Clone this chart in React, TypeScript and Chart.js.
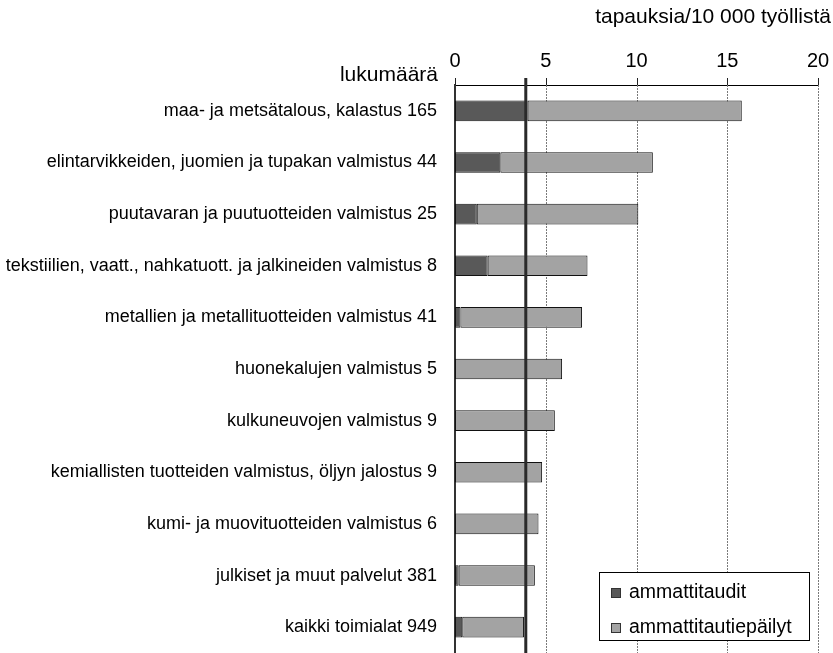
import React, { useEffect, useRef } from "react";
import { Chart, registerables } from "chart.js";

Chart.register(...registerables);

const categories = [
  "maa- ja metsätalous, kalastus 165",
  "elintarvikkeiden, juomien ja tupakan valmistus 44",
  "puutavaran ja puutuotteiden valmistus 25",
  "tekstiilien, vaatt., nahkatuott. ja jalkineiden valmistus 8",
  "metallien ja metallituotteiden valmistus 41",
  "huonekalujen valmistus 5",
  "kulkuneuvojen valmistus 9",
  "kemiallisten tuotteiden valmistus, öljyn jalostus 9",
  "kumi- ja muovituotteiden valmistus 6",
  "julkiset ja muut palvelut 381",
  "kaikki toimialat 949",
];

const ammattitaudit = [4.0, 2.5, 1.2, 1.8, 0.3, 0, 0, 0, 0, 0.2, 0.4];
const ammattitautiepailyt = [11.8, 8.4, 8.9, 5.5, 6.7, 5.9, 5.5, 4.8, 4.6, 4.2, 3.4];

const referenceValue = 3.9;
const xTicks = [0, 5, 10, 15, 20];
const unitLabel = "tapauksia/10 000 työllistä";
const countLabel = "lukumäärä";

const FONT = "'Liberation Sans', Arial, sans-serif";

export default function App() {
  const ref = useRef<HTMLCanvasElement | null>(null);

  useEffect(() => {
    if (!ref.current) return;
    const extras = {
      id: "extras",
      beforeDatasetsDraw(chart: any) {
        const ctx = chart.ctx;
        const xs = chart.scales.x;
        const area = chart.chartArea;
        ctx.save();
        xTicks.forEach((v) => {
          const x = Math.round(xs.getPixelForValue(v)) + 0.5;
          if (v !== 0) {
            ctx.strokeStyle = "#7a7a7a";
            ctx.lineWidth = 1;
            ctx.setLineDash([2, 1]);
            ctx.beginPath();
            ctx.moveTo(x, area.top);
            ctx.lineTo(x, area.bottom);
            ctx.stroke();
          }
          ctx.setLineDash([]);
          ctx.strokeStyle = "#222";
          ctx.lineWidth = 1;
          ctx.beginPath();
          ctx.moveTo(x, area.top - 7);
          ctx.lineTo(x, area.top);
          ctx.stroke();
        });
        ctx.restore();
      },
      afterDatasetsDraw(chart: any) {
        const ctx = chart.ctx;
        const xs = chart.scales.x;
        const area = chart.chartArea;
        ctx.save();
        const rx = xs.getPixelForValue(referenceValue);
        ctx.strokeStyle = "#2a2a2a";
        ctx.lineWidth = 3;
        ctx.beginPath();
        ctx.moveTo(rx, area.top - 7);
        ctx.lineTo(rx, area.bottom);
        ctx.stroke();

        ctx.fillStyle = "#000";
        ctx.font = `21px ${FONT}`;
        ctx.textAlign = "right";
        ctx.textBaseline = "alphabetic";
        ctx.fillText(unitLabel, 831, 23);
        ctx.fillText(countLabel, 438, 81);

        const lx = 599.5, ly = 572.5, lw = 210, lh = 68;
        ctx.fillStyle = "#fff";
        ctx.fillRect(lx, ly, lw, lh);
        ctx.strokeStyle = "#000";
        ctx.lineWidth = 1;
        ctx.strokeRect(lx, ly, lw, lh);
        const items = chart.data.datasets;
        const rows = [598, 633];
        items.forEach((ds: any, i: number) => {
          const by = rows[i];
          ctx.fillStyle = ds.backgroundColor;
          ctx.fillRect(611, by - 10, 10, 10);
          ctx.strokeStyle = "#333";
          ctx.strokeRect(611.5, by - 9.5, 9, 9);
          ctx.fillStyle = "#000";
          ctx.font = `19.5px ${FONT}`;
          ctx.textAlign = "left";
          ctx.fillText(ds.label, 629, by);
        });
        ctx.restore();
      },
    };

    const chart = new Chart(ref.current, {
      type: "bar",
      data: {
        labels: categories,
        datasets: [
          {
            label: "ammattitaudit",
            data: ammattitaudit,
            backgroundColor: "#595959",
            borderColor: "#111",
            borderWidth: 1,
            borderSkipped: false,
            barPercentage: 0.4,
            categoryPercentage: 1,
          },
          {
            label: "ammattitautiepäilyt",
            data: ammattitautiepailyt,
            backgroundColor: "#a3a3a3",
            borderColor: "#111",
            borderWidth: 1,
            borderSkipped: false,
            barPercentage: 0.4,
            categoryPercentage: 1,
          },
        ],
      },
      options: {
        indexAxis: "y",
        responsive: false,
        animation: false,
        layout: { padding: { left: 0, right: 15, top: 0, bottom: 0 } },
        plugins: { legend: { display: false }, tooltip: { enabled: false } },
        scales: {
          x: {
            position: "top",
            stacked: true,
            min: 0,
            max: 20,
            afterFit(scale: any) {
              scale.height = 85;
              scale.paddingLeft = 0;
              scale.paddingRight = 0;
            },
            afterBuildTicks(scale: any) {
              scale.ticks = xTicks.map((v) => ({ value: v }));
            },
            grid: { display: false, drawTicks: false },
            border: { display: true, color: "#000", width: 1 },
            ticks: {
              padding: 12,
              color: "#000",
              font: { family: FONT, size: 20 },
            },
          },
          y: {
            stacked: true,
            afterFit(scale: any) {
              scale.width = 455;
              scale.paddingTop = 0;
              scale.paddingBottom = 0;
            },
            grid: { display: false, drawTicks: false },
            border: { display: true, color: "#333", width: 2 },
            ticks: {
              padding: 18,
              color: "#000",
              autoSkip: false,
              font: { family: FONT, size: 18 },
            },
          },
        },
      },
      plugins: [extras],
    } as any);
    return () => chart.destroy();
  }, []);

  return (
    <div style={{ position: "absolute", left: 0, top: 0, width: 833, height: 653 }}>
      <canvas ref={ref} width={833} height={653} style={{ display: "block" }} />
    </div>
  );
}
